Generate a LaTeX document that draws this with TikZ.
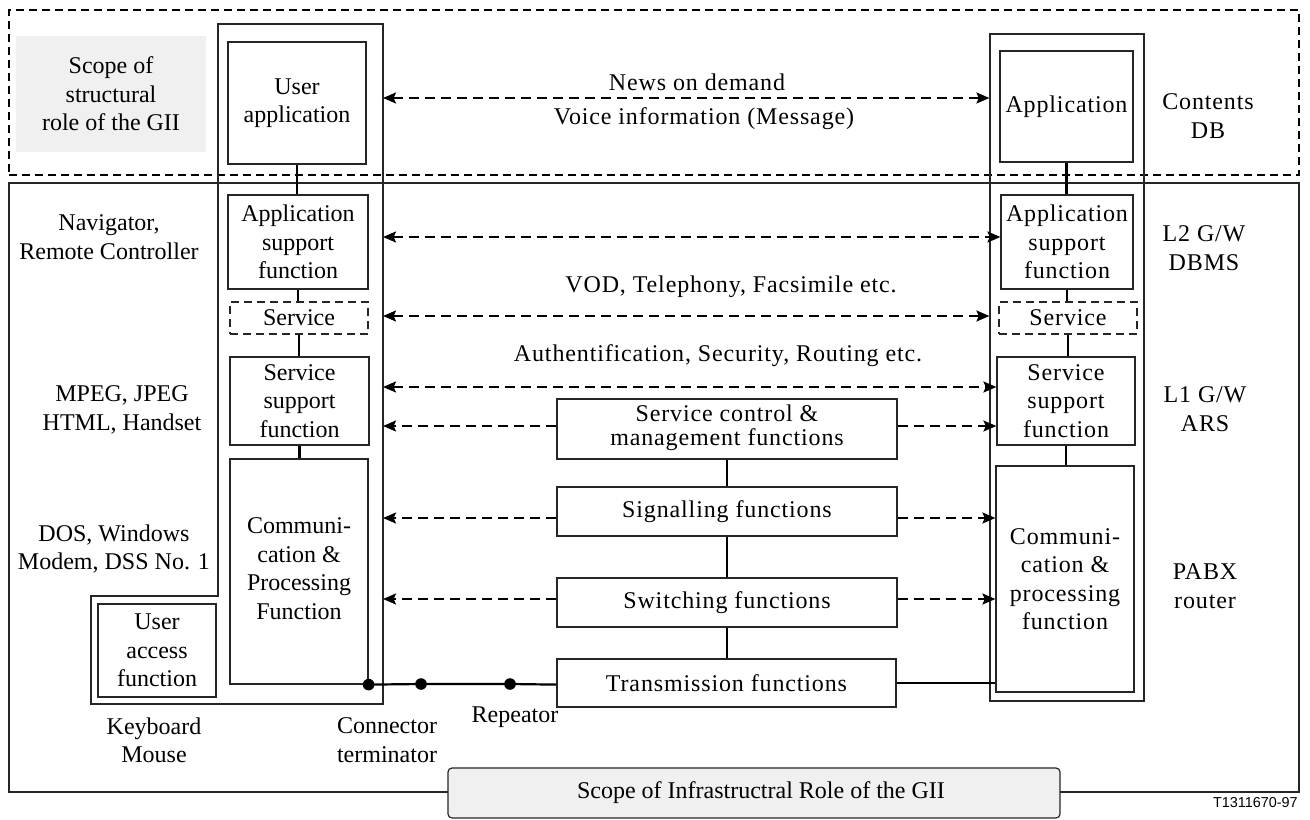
\documentclass[tikz,border=0pt]{standalone}
\usepackage{fontspec}
\setmainfont{Liberation Serif}
\newfontfamily\spacedfont{Liberation Serif}[LetterSpace=3.6]
\newfontfamily\tagfont{Liberation Sans}
\usetikzlibrary{arrows.meta}

\begin{document}
\begin{tikzpicture}[x=0.5pt,y=-0.5pt,
  font=\fontsize{12}{14.2}\selectfont,
  frame/.style={draw=black!85,line width=0.6pt,inner sep=0pt,align=center},
  dashframe/.style={frame,dash pattern=on 4pt off 2.5pt,line width=0.8pt},
  sfont/.style={font=\fontsize{12}{14.2}\spacedfont},
  spaced/.style={sfont,align=center},
  plain/.style={align=center},
  size/.style 2 args={minimum width=#1pt,minimum height=#2pt},
  conn/.style={line width=1.1pt},
  darr/.style={line width=1pt,dash pattern=on 5pt off 3pt,
    -{Stealth[length=6.5pt,width=5.5pt,inset=1.2pt]}},
  bidarr/.style={line width=1pt,dash pattern=on 5pt off 3pt,
    {Stealth[length=6.5pt,width=5.5pt,inset=1.2pt]}-{Stealth[length=6.5pt,width=5.5pt,inset=1.2pt]}},
  dot/.style={circle,fill=black,inner sep=0pt,minimum size=5.8pt}
]
% canvas
\fill[white] (0,0) rectangle (1310,819);
\useasboundingbox (0,0) rectangle (1310,819);

% the two scope regions
\node[draw=black,line width=1pt,dash pattern=on 4pt off 2.5pt,inner sep=0pt,
  size={645}{82.5}] (contentzone) at (654,92.5) {};
\node[frame,size={645}{304.5}] (infrazone) at (654,487.5) {};
\node[plain,fill=black!6,inner sep=0pt,size={95}{58}] (structscope) at (111,94)
  {Scope of\\structural\\role of the GII};

% user side column outline
\draw[draw=black!85,line width=0.6pt] (218,24) -- (383,24) -- (383,704) -- (91,704)
  -- (91,596) -- (218,596) -- cycle;
\coordinate (ucolR) at (383,24);

% provider side column outline
\node[frame,size={77}{333.5}] (rcol) at (1067,367.5) {};

% user side functions
\node[frame,size={69}{61}] (uapp) at (297,103) {User\\application};
\node[frame,size={70}{47}] (lasf) at (298,242) {Application\\support\\function};
\node[dashframe,size={69}{16}] (lsvc) at (299,318) {Service};
\node[frame,size={69.5}{44}] (lssf) at (299.5,401) {Service\\support\\function};
\node[frame,size={69}{112.5}] (lcomm) at (299,571.5) {\mbox{}\\[-9pt]Communi-\\cation \&\\Processing\\Function};
\node[frame,size={59}{46.5}] (uaf) at (157,650.5) {User\\access\\function};

% provider side functions
\node[frame,sfont,size={66.5}{55.5}] (rapp) at (1066.5,106.5) {Application};
\node[frame,sfont,size={66}{47}] (rasf) at (1067,242) {Application\\support\\function};
\node[dashframe,sfont,size={69}{16}] (rsvc) at (1068,318) {Service};
\node[frame,sfont,size={69}{44}] (rssf) at (1066,401) {Service\\support\\function};
\node[frame,sfont,size={69}{113}] (rcomm) at (1065,579) {Communi-\\cation \&\\processing\\function};

% network functions
\node[frame,sfont,size={170}{30}] (scm) at (727,429) {\mbox{}\\[-7pt]Service control \&\\[-2pt]management functions};
\node[frame,sfont,size={170}{24.5}] (sig) at (727,511.5) {Signalling functions};
\node[frame,sfont,size={170}{24.5}] (swi) at (727,602.5) {Switching functions};
\node[frame,sfont,size={169.5}{24}] (tra) at (726.5,683) {Transmission functions};

% infrastructure scope tab
\node[frame,fill=black!6,rounded corners=2pt,size={306}{25}] (infrascope) at (754,793)
  {\hspace*{7pt}Scope of Infrastructral Role of the GII};

% vertical links inside the columns
\draw[conn] (uapp.south) -- (uapp.south |- lasf.north);
\draw[conn] (lasf.south) -- (lasf.south |- lsvc.north);
\draw[conn] (lsvc.south) -- (lsvc.south |- lssf.north);
\draw[conn] (lssf.south) -- (lssf.south |- lcomm.north);
\draw[conn] (rapp.south) -- (rapp.south |- rasf.north);
\draw[conn] (rasf.south) -- (rasf.south |- rsvc.north);
\draw[conn] (rsvc.south) -- (rsvc.south |- rssf.north);
\draw[conn] (rssf.south) -- (rssf.south |- rcomm.north);
\draw[conn] (scm.south) -- (scm.south |- sig.north);
\draw[conn] (sig.south) -- (sig.south |- swi.north);
\draw[conn] (swi.south) -- (swi.south |- tra.north);

% levels of the peer relations
\coordinate (yNews) at (0,98);
\coordinate (yAsf) at (0,237);
\coordinate (ySvc) at (0,316);
\coordinate (ySsf) at (0,387);
\coordinate (yScm) at (0,426);
\coordinate (ySig) at (0,518);
\coordinate (ySwi) at (0,599);

\draw[bidarr] (ucolR |- yNews) -- (rcol.west |- yNews);
\node[spaced] (newslbl) at (697,82) {News on demand};
\node[spaced] (voicelbl) at (704,119) {Voice information (Message)};
\draw[bidarr] (ucolR |- yAsf) -- (rasf.west |- yAsf);
\node[spaced] (vodlbl) at (731,287) {VOD, Telephony, Facsimile etc.};
\draw[bidarr] (ucolR |- ySvc) -- (rcol.west |- ySvc);
\node[spaced] (authlbl) at (718,356) {Authentification, Security, Routing etc.};
\draw[bidarr] (ucolR |- ySsf) -- (rssf.west |- ySsf);
\draw[darr] (scm.west |- yScm) -- (ucolR |- yScm);
\draw[darr] (scm.east |- yScm) -- (rssf.west |- yScm);
\draw[darr] (sig.west |- ySig) -- (ucolR |- ySig);
\draw[darr] (sig.east |- ySig) -- (rcomm.west |- ySig);
\draw[darr] (swi.west |- ySwi) -- (ucolR |- ySwi);
\draw[darr] (swi.east |- ySwi) -- (rcomm.west |- ySwi);

% transmission path with connector and repeaters
\node[dot] (ct) at (lcomm.south east) {};
\node[dot] (rp1) at (421,684) {};
\node[dot] (rp2) at (510,684) {};
\draw[conn] (ct.center) -- (rp1.center) -- (rp2.center) -- (ct.center -| tra.west);
\draw[conn] (tra.east) -- (tra.east -| rcomm.west);

% side annotations
\node[plain] (navlbl) at (109,237) {Navigator,\\Remote Controller};
\node[plain] (mpeglbl) at (122,410) {MPEG, JPEG\\HTML, Handset};
\node[plain] (doslbl) at (114,549) {DOS, Windows\\Modem, DSS No. 1};
\node[plain] (kbdlbl) at (154,740) {Keyboard\\Mouse};
\node[plain] (ctlbl) at (387,740) {Connector\\terminator};
\node[plain] (replbl) at (515,717) {Repeator};
\node[spaced] (dblbl) at (1208,116) {Contents\\DB};
\node[spaced] (l2lbl) at (1204,248) {L2 G/W\\DBMS};
\node[spaced] (l1lbl) at (1205,409) {L1 G/W\\ARS};
\node[spaced] (pabxlbl) at (1205,586) {PABX\\router};
\node[font=\fontsize{7.2}{8}\tagfont,anchor=east,inner sep=0pt] (figtag) at (1298,803) {T1311670-97};
\end{tikzpicture}
\end{document}
